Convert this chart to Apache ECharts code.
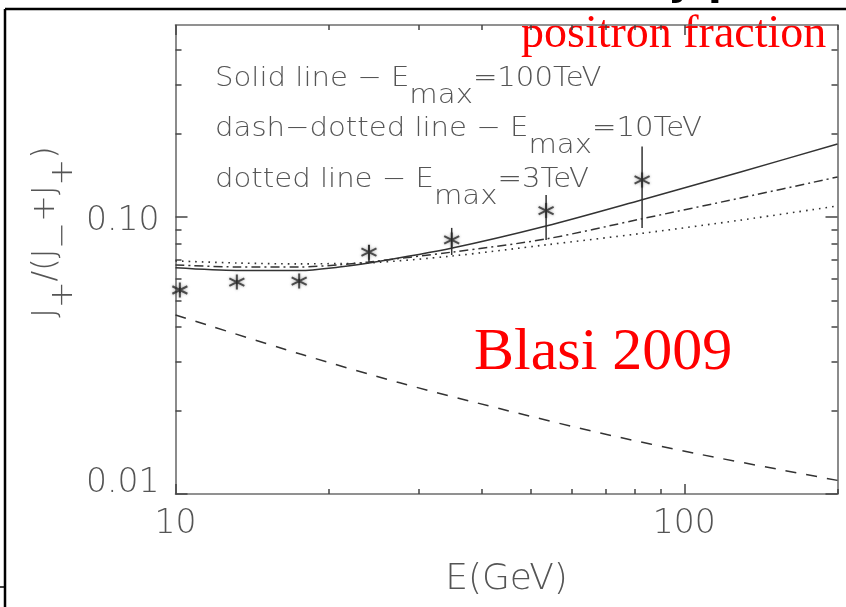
<!DOCTYPE html>
<html>
<head>
<meta charset="utf-8">
<script src="https://cdn.jsdelivr.net/npm/echarts@6/dist/echarts.min.js"></script>
<style>
  html, body { margin: 0; padding: 0; background: #fff; }
  #chart { width: 846px; height: 607px; }
</style>
</head>
<body>
<div id="chart"></div>
<script>
// Measured positron fraction with error bars
const energy       = [10.2, 13.2, 17.5, 24.0, 34.9, 53.5, 82.6];
const fraction     = [0.0545, 0.0582, 0.0587, 0.0746, 0.0826, 0.1054, 0.136];
const fractionLow  = [0.0532, 0.0572, 0.0577, 0.0688, 0.0729, 0.0826, 0.0913];
const fractionHigh = [0.0558, 0.0593, 0.0598, 0.0792, 0.0913, 0.1201, 0.1795];

// Model curves for three maximum energies
const curveEnergy = [10, 13.2, 17.6, 21, 24, 35, 53.5, 82.3, 129, 200];
const solid100TeV   = [0.0655, 0.0641, 0.0641, 0.0660, 0.0682, 0.0773, 0.0928, 0.1152, 0.1454, 0.1834];
const dashDot10TeV  = [0.0671, 0.0660, 0.0660, 0.0672, 0.0688, 0.0747, 0.0833, 0.0984, 0.1171, 0.1394];
const dotted3TeV    = [0.0694, 0.0682, 0.0677, 0.0679, 0.0682, 0.0723, 0.0793, 0.0872, 0.0974, 0.1096];

// Dashed curve
const dashedEnergy = [10, 17.6, 27.6, 43.5, 68.4, 107.5, 200];
const dashedValues = [0.0443, 0.0320, 0.0252, 0.0203, 0.0166, 0.0139, 0.0112];

// Axis ticks
const xMajorTicks = [10, 100];
const xMinorTicks = [20, 30, 40, 50, 60, 70, 80, 90, 200];
const yMajorTicks = [0.01, 0.1];
const yMinorTicks = [0.02, 0.03, 0.04, 0.05, 0.06, 0.07, 0.08, 0.09, 0.2, 0.3, 0.4];

const X_MIN = 10, X_MAX = 200, Y_MIN = 0.01, Y_MAX = 0.493;

const pair = (xs, ys) => xs.map((x, i) => [x, ys[i]]);

const AXIS_GREY = '#6e6e6e';
const TEXT_GREY = '#555';
const SANS = '"DejaVu Sans", Roboto, sans-serif';
const SERIF = '"Liberation Serif", "Times New Roman", serif';

function makeAxis(kind, position, ticks, len, opts) {
  const isX = kind === 'x';
  return Object.assign({
    type: 'log',
    logBase: 10,
    min: isX ? X_MIN : Y_MIN,
    max: isX ? X_MAX : Y_MAX,
    position: position,
    axisLine: { show: false },
    axisTick: { show: true, inside: true, length: len, customValues: ticks,
                lineStyle: { color: '#444', width: 1.5 } },
    axisLabel: { show: false },
    splitLine: { show: false },
    minorTick: { show: false }
  }, opts || {});
}

const frameLine = { show: true, onZero: false, lineStyle: { color: AXIS_GREY, width: 1.6 } };
const labelText = { color: TEXT_GREY, fontFamily: SANS, fontWeight: 200, fontSize: 33 };

const xAxes = [
  makeAxis('x', 'bottom', xMinorTicks, 5, { axisLine: frameLine }),
  makeAxis('x', 'bottom', xMajorTicks, 10, {
    axisLabel: Object.assign({
      show: true, customValues: xMajorTicks, margin: 14,
      formatter: v => String(Math.round(v))
    }, labelText),
    name: 'E(GeV)', nameLocation: 'middle', nameGap: 68,
    nameTextStyle: { color: TEXT_GREY, fontFamily: SANS, fontWeight: 200, fontSize: 36 }
  }),
  makeAxis('x', 'top', xMinorTicks, 5, { axisLine: frameLine }),
  makeAxis('x', 'top', xMajorTicks, 10)
];

const yAxes = [
  makeAxis('y', 'left', yMinorTicks, 6, { axisLine: frameLine }),
  makeAxis('y', 'left', yMajorTicks, 12, {
    axisLabel: Object.assign({
      show: true, customValues: yMajorTicks, margin: 16,
      formatter: v => (v < 0.05 ? '{lo|' : '{hi|') + v.toFixed(2) + '}',
      rich: {
        lo: Object.assign({ padding: [0, 0, 22, 0] }, labelText),
        hi: Object.assign({ padding: [8, 0, 0, 0] }, labelText)
      }
    }, labelText)
  }),
  makeAxis('y', 'right', yMinorTicks, 6, { axisLine: frameLine }),
  makeAxis('y', 'right', yMajorTicks, 12)
];

// Vertical error bars drawn through the axes' own scales
function renderErrorBar(params, api) {
  const x = api.value(0);
  const top = api.coord([x, api.value(2)]);
  const bottom = api.coord([x, api.value(1)]);
  return {
    type: 'line',
    shape: { x1: top[0], y1: top[1], x2: bottom[0], y2: bottom[1] },
    style: { stroke: '#333', lineWidth: 1.5 }
  };
}

const asterisk = 'path://M0,-1L0,1M-0.87,-0.5L0.87,0.5M-0.87,0.5L0.87,-0.5';

function keyLine(y, before, after) {
  const base = { fontSize: 27, fontWeight: 200, fontFamily: SANS, fill: TEXT_GREY, lineHeight: 30, verticalAlign: 'top' };
  return {
    type: 'text', x: 215, y: y, scaleX: 1.08, silent: true,
    style: {
      text: '{a|' + before + '}{s|max}{a|' + after + '}',
      rich: {
        a: base,
        s: Object.assign({ padding: [17, 0, 0, 0] }, base)
      }
    }
  };
}

const option = {
  animation: false,
  backgroundColor: '#fff',
  grid: { left: 175.5, right: 8.5, top: 25, bottom: 113, containLabel: false, outerBoundsMode: 'none' },
  xAxis: xAxes,
  yAxis: yAxes,
  series: [
    {
      type: 'line', data: pair(curveEnergy, solid100TeV), smooth: 0.3,
      showSymbol: false, lineStyle: { color: '#333', width: 1.5 }
    },
    {
      type: 'line', data: pair(curveEnergy, dashDot10TeV), smooth: 0.3,
      showSymbol: false, lineStyle: { color: '#333', width: 1.5, type: [9, 4, 2, 4] }
    },
    {
      type: 'line', data: pair(curveEnergy, dotted3TeV), smooth: 0.3,
      showSymbol: false, lineStyle: { color: '#333', width: 1.6, type: [1.6, 5] }
    },
    {
      type: 'line', data: pair(dashedEnergy, dashedValues), smooth: 0.3,
      showSymbol: false, lineStyle: { color: '#333', width: 1.5, type: [11, 10] }
    },
    {
      type: 'custom', renderItem: renderErrorBar,
      data: energy.map((e, i) => [e, fractionLow[i], fractionHigh[i]]),
      encode: { x: 0, y: [1, 2] }, z: 3
    },
    {
      type: 'scatter', data: pair(energy, fraction), symbol: asterisk, symbolSize: 15,
      itemStyle: { color: 'transparent', borderColor: '#2a2a2a', borderWidth: 2,
                   shadowColor: 'rgba(0,0,0,0.45)', shadowBlur: 3 }, z: 4
    }
  ],
  graphic: [
    keyLine(65, 'Solid line − E', '=100TeV'),
    keyLine(115, 'dash−dotted line − E', '=10TeV'),
    keyLine(166, 'dotted line − E', '=3TeV'),
    {
      type: 'text', left: 521, top: 12, silent: true,
      style: { text: 'positron fraction', fill: '#ff0000', font: '46px ' + SERIF }
    },
    {
      type: 'text', left: 474, top: 323, silent: true,
      style: { text: 'Blasi 2009', fill: '#ff0000', font: '60px ' + SERIF }
    },
    {
      type: 'text', x: 47, y: 232, rotation: Math.PI / 2, silent: true,
      style: {
        text: '{m|J}{s|+}{m|/(J}{s|−}{m|+J}{s|+}{m|)}',
        align: 'center', verticalAlign: 'middle',
        rich: {
          m: { fontSize: 32, fontWeight: 200, fontFamily: SANS, fill: TEXT_GREY, lineHeight: 34, verticalAlign: 'top' },
          s: { fontSize: 32, fontWeight: 200, fontFamily: SANS, fill: TEXT_GREY, lineHeight: 34, verticalAlign: 'top', padding: [18, 0, 0, 0] }
        }
      }
    },
    // clipped heading above the page frame
    {
      type: 'text', left: 668, top: -36, silent: true,
      style: { text: 'y p', fill: '#000', font: 'bold 40px ' + SANS }
    },
    // outer page frame
    { type: 'line', silent: true, shape: { x1: 5, y1: 9, x2: 5, y2: 607 }, style: { stroke: '#000', lineWidth: 2.5 } },
    { type: 'line', silent: true, shape: { x1: 5, y1: 9, x2: 846, y2: 9 }, style: { stroke: '#000', lineWidth: 2.5 } },
    { type: 'line', silent: true, shape: { x1: 0, y1: 587, x2: 5, y2: 587 }, style: { stroke: '#000', lineWidth: 1.5 } }
  ]
};

const chart = echarts.init(document.getElementById('chart'), null, { renderer: 'canvas' });
chart.setOption(option);
</script>
</body>
</html>
